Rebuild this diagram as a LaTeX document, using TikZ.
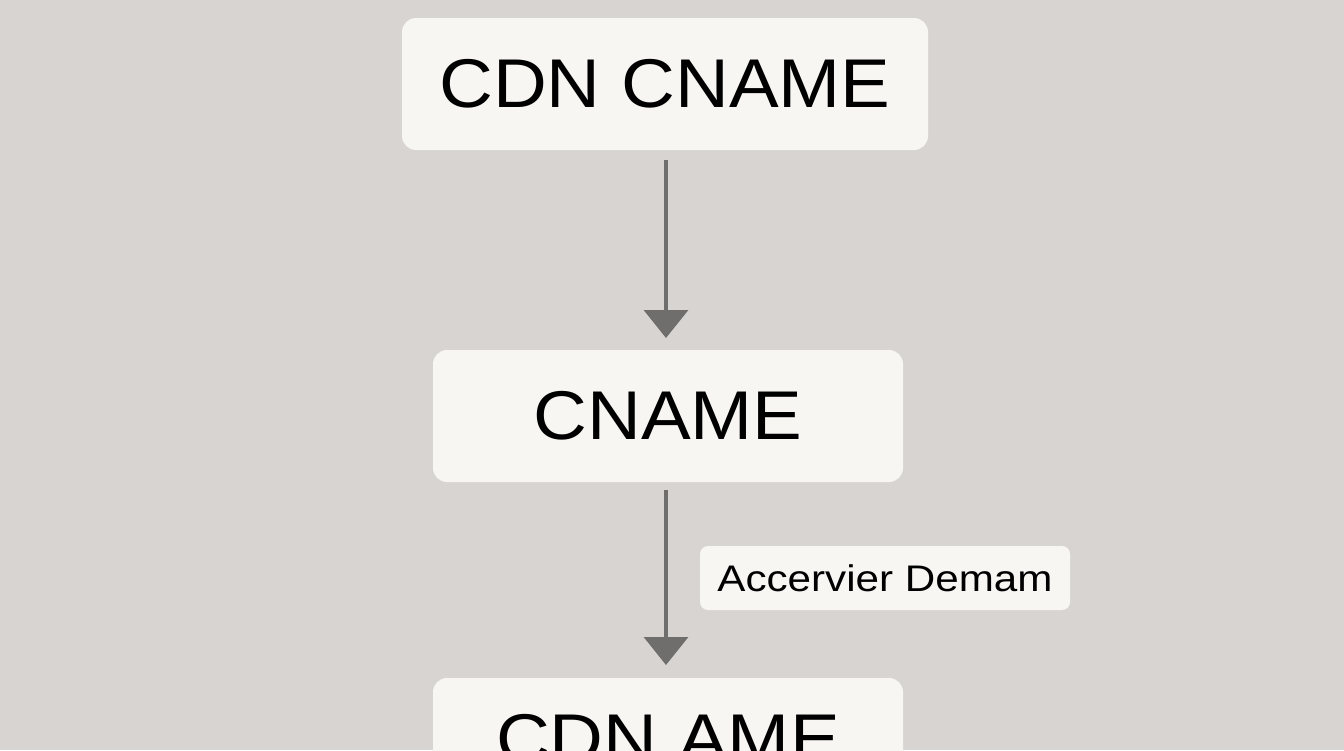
\documentclass[tikz,border=0pt]{standalone}
\usepackage{fontspec}
\setmainfont{Liberation Sans}
\usetikzlibrary{arrows.meta}
\definecolor{bg}{HTML}{D7D4D1}
\definecolor{boxc}{HTML}{F7F6F3}
\definecolor{arr}{HTML}{6F6E6D}
\begin{document}
\begin{tikzpicture}[x=1pt,y=-1pt,
  box/.style={fill=boxc,rounded corners=14pt,draw=none},
  big/.style={font=\fontsize{69}{70}\selectfont,text=black,xscale=1.08},
  conn/.style={draw=arr,line width=3.5pt,-{Triangle[length=28pt,width=44pt]}}]
\useasboundingbox (0,0) rectangle (1344,750);
\clip (0,0) rectangle (1344,750);
\fill[bg] (0,0) rectangle (1344,750);
\node[box,minimum width=526pt,minimum height=132pt] (a) at (665,84) {};
\node[big] at (a.center) {CDN CNAME};
\node[box,minimum width=470pt,minimum height=132pt] (b) at (668,416) {};
\node[big] at (b.center) {CNAME};
\node[box,minimum width=470pt,minimum height=132pt] (c) at (668,744) {};
\node[big,anchor=base] at (668,762) {CDN AME};
\node[fill=boxc,rounded corners=8pt,minimum width=370pt,minimum height=64pt] (l) at (885,578) {};
\node[font=\fontsize{37}{38}\selectfont,xscale=1.14] at (l.center) {Accervier Demam};
\draw[conn] (666,160) -- (666,338);
\draw[conn] (666,490) -- (666,665);
\end{tikzpicture}
\end{document}
